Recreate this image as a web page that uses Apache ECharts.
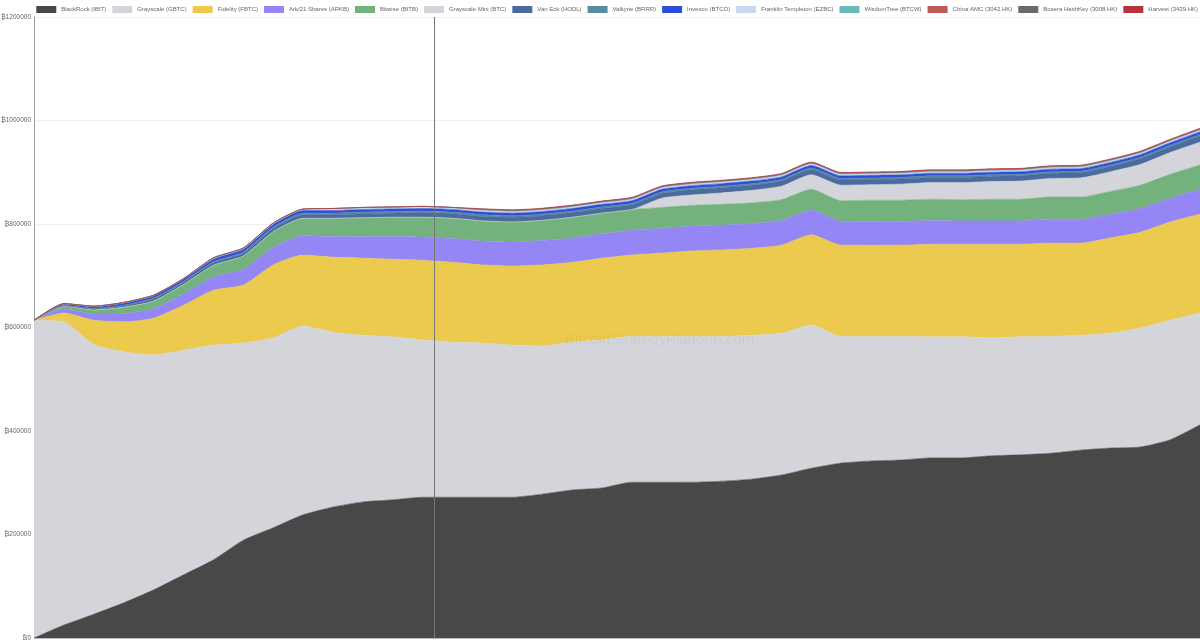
<!DOCTYPE html>
<html><head><meta charset="utf-8">
<script src="https://cdn.jsdelivr.net/npm/echarts@6/dist/echarts.min.js"></script>
<style>html,body{margin:0;padding:0;background:#fff}#c{width:1200px;height:640px}</style>
</head><body><div id="c"></div>
<script>
const seriesNames = ["BlackRock (IBIT)","Grayscale (GBTC)","Fidelity (FBTC)","Ark/21 Shares (ARKB)","Bitwise (BITB)","Grayscale Mini (BTC)","Van Eck (HODL)","Valkyrie (BRRR)","Invesco (BTCO)","Franklin Templeton (EZBC)","WisdomTree (BTCW)","China AMC (3042.HK)","Bosera HashKey (3008.HK)","Harvest (3439.HK)"];
const colors = ["#484848","#d4d5da","#ebca4e","#9487f5","#73b27c","#d4d5da","#4b6a9e","#5b89a0","#2d4fd6","#c8d8f0","#6cb9bb","#c05a56","#6a6a6a","#b8323a"];
// thousands of BTC, 40 sample points
const IBIT = [0,25,46,68,93,122,151,189,213,238,253,263,267,272,272,272,272,278,286,290,301,301,301,303,307,315,328,338,342,344,348,348,352,354,357,363,367,369,383,412];
const GBTC = [614,586,521,485,454,434,415,381,367,365,338,322,315,304,300,298,294,286,286,286,282,282,282,280,278,274,277,245,241,239,234,234,228,228,226,222,222,230,231,216];
const FBTC = [0,17,47,58,71,87,106,112,141,137,145,149,150,154,154,151,153,157,154,158,157,161,165,167,168,170,174,176,176,176,179,179,181,179,180,178,184,185,190,191];
const ARKB = [0,8,12,16,18,22,26,30,34,38,40,42,44,45,46,46,46,47,47,47,48,48,48,48,48,48,48,46,46,46,46,45,45,45,46,46,46,46,46,48];
const BITB = [0,5,8,12,15,18,22,26,30,33,35,36,37,38,39,39,39,39,40,40,40,40,40,40,40,40,40,40,41,41,41,41,42,42,43,43,44,45,46,47];
const MINI = [0,0,0,0,0,0,0,0,0,0,0,0,0,0,0,0,0,0,0,0,0,18,20,22,24,26,28,30,30,31,32,33,34,35,36,37,38,40,42,44];
const HODL = [0,1,2,3,4,4,5,5,6,7,7,8,8,9,9,9,9,9,9,9,9,9,10,10,10,10,10,10,10,10,10,10,10,10,10,10,10,11,11,12];
const BRRR = [0,1,1,1,2,2,2,3,3,3,3,3,3,3,3,3,3,3,3,3,3,3,3,3,3,3,3,3,3,3,3,3,3,3,3,3,3,3,3,3];
const BTCO = [0,2,3,4,4,4,5,5,5,5,5,5,5,5,5,5,5,5,5,5,5,5,5,5,5,5,5,5,5,5,5,5,5,5,5,5,5,5,5,5];
const EZBC = [0,1,1,1,1,1,2,2,2,2,3,3,3,3,3,3,3,3,3,3,3,3,3,3,3,3,3,3,3,3,3,3,3,3,3,3,3,3,3,3];
const BTCW = [0,0.2,0.3,0.4,0.5,0.5,0.6,0.7,0.8,0.9,1,1,1,1,1,1,1,1,1,1,1,1,1,1,1,1,1,1,1,1,1,1,1,1,1,1,1,1,1,1];
const CAMC = [0,0,0,0,0,0,0,0,0,0,0,0,0,0,0,1,1,1,1,1,1,1,1,1,1,1,1,1,1,1,1,1,1,1,1,1,1,1,1,1];
const BOSERA = [0,0,0,0,0,0,0,0,0,0,0,0,0,0,0,0.5,0.5,0.5,0.5,0.5,0.6,0.6,0.6,0.6,0.6,0.6,0.6,0.6,0.6,0.6,0.6,0.6,0.6,0.6,0.6,0.6,0.6,0.6,0.6,0.6];
const HARVEST = [0,0,0,0,0,0,0,0,0,0,0,0,0,0,0,1,1,1,1,1,1,1,1,1,1,1,1,1,1,1,1,1,1,1,1,1,1,1,1,1.5];
const allData = [IBIT,GBTC,FBTC,ARKB,BITB,MINI,HODL,BRRR,BTCO,EZBC,BTCW,CAMC,BOSERA,HARVEST];
const categories = IBIT.map((_,i)=>String(i));
const yTicks = [0,200000,400000,600000,800000,1000000,1200000];
const crosshairAt = 13.4;

const chart = echarts.init(document.getElementById('c'));
const series = seriesNames.map((n,k)=>({
    name:n,type:'line',stack:'t',smooth:0.2,showSymbol:false,symbol:'none',
    lineStyle:{width:0.6,color:colors[k]},areaStyle:{color:colors[k],opacity:1},
    data: allData[k].map(v=>v*1000)
  }));
series.push({type:'line',xAxisIndex:1,data:[[0,null]],silent:true,z:10,
  markLine:{symbol:'none',silent:true,label:{show:false},lineStyle:{color:'#777',width:1,type:'solid'},data:[{xAxis:crosshairAt}]}});
chart.setOption({
  animation:false,
  color: colors,
  legend:{top:6,right:2,width:1190,padding:0,icon:'rect',itemWidth:20,itemHeight:7,itemGap:6,data:seriesNames,textStyle:{fontSize:6,color:'#666',fontFamily:'Liberation Sans'}},
  grid:{left:34,right:0,top:17,bottom:2,outerBoundsMode:'none'},
  graphic:[{type:'text',z:100,left:565,top:332,style:{text:'BitcoinStrategyPlatform.com',fontSize:15,fill:'rgba(0,0,0,0.04)',fontFamily:'Liberation Sans'}}],
  xAxis:[{type:'category',data:categories,boundaryGap:false,axisLabel:{show:false},axisTick:{show:false},splitLine:{show:false},
    axisLine:{lineStyle:{color:'#bbb'}}},
    {type:'value',min:0,max:IBIT.length-1,show:false}],
  yAxis:{type:'value',min:0,max:1200000,interval:200000,
    axisLine:{show:true,lineStyle:{color:'#999'}},axisTick:{show:false},
    splitLine:{lineStyle:{color:'#f0f0f0'}},
    axisLabel:{fontSize:6.5,color:'#666',margin:3,fontFamily:'Liberation Sans',formatter:v=>yTicks.includes(v)?'₿'+v:''}},
  series: series
});
</script></body></html>
